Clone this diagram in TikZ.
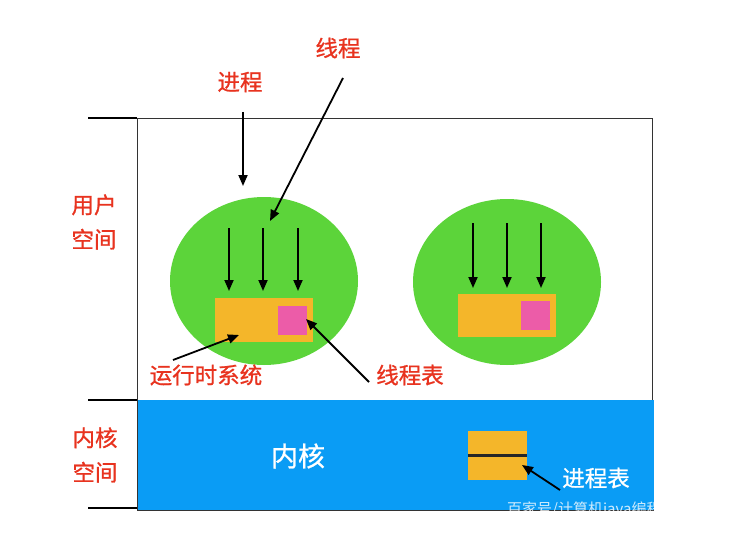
\documentclass[tikz,border=0pt]{standalone}
\usepackage{fontspec}
\setmainfont{Noto Sans CJK SC}[FakeBold=0.9]
\newfontfamily\plaincjk{Noto Sans CJK SC}
\usetikzlibrary{arrows.meta}
\definecolor{lblred}{HTML}{E8331F}
\definecolor{cellgreen}{HTML}{5CD43A}
\definecolor{rtorange}{HTML}{F4B62A}
\definecolor{tblpink}{HTML}{EC5CA8}
\definecolor{kernblue}{HTML}{0A9CF5}
\begin{document}
\begin{tikzpicture}[x=1pt,y=-1pt,
  redlbl/.style={text=lblred,font=\fontsize{22.5}{34.5}\selectfont,inner sep=0pt,align=center},
  whitelbl/.style={text=white,inner sep=0pt},
  ptr/.style={line width=1.8pt,-{Triangle[width=9pt,length=11pt]}},
  tick/.style={line width=1.4pt},
  frame/.style={draw=black!80,line width=0.9pt}]
\useasboundingbox (0,0) rectangle (735,540);
\fill[white] (0,0) rectangle (735,540);

% user space frame and kernel block
\draw[frame] (137,118) rectangle (652,400);
\fill[kernblue] (137,400) rectangle (654,510);
\draw[frame] (137,400) -- (137,510) -- (654,510);

% side ticks
\coordinate (t1a) at (88,118); \coordinate (t1b) at (137,118);
\coordinate (t2a) at (88,400); \coordinate (t2b) at (137,400);
\coordinate (t3a) at (88,508); \coordinate (t3b) at (137,508);
\draw[tick] (t1a) -- (t1b);
\draw[tick] (t2a) -- (t2b);
\draw[tick] (t3a) -- (t3b);

% side labels
\node[redlbl] (user) at (94,222) {用户\\空间};
\node[redlbl] (kspace) at (95,455) {内核\\空间};

% left process
\fill[cellgreen] (264,281) ellipse [x radius=94, y radius=84];
\node[fill=rtorange,minimum width=98pt,minimum height=44pt,inner sep=0pt] (rt1) at (264,320) {};
\node[fill=tblpink,minimum width=29pt,minimum height=29pt,inner sep=0pt] (tt1) at (292.5,320.5) {};
\foreach \i/\x in {a/229,b/263,c/298}{
  \coordinate (s1\i) at (\x,228);
  \coordinate (e1\i) at (\x,291);
  \draw[ptr] (s1\i) -- (e1\i);
}

% right process
\fill[cellgreen] (507,282) ellipse [x radius=94, y radius=83];
\node[fill=rtorange,minimum width=98pt,minimum height=43pt,inner sep=0pt] (rt2) at (507,315.5) {};
\node[fill=tblpink,minimum width=29pt,minimum height=29pt,inner sep=0pt] (tt2) at (535.5,315.5) {};
\foreach \i/\x in {a/473,b/507,c/541}{
  \coordinate (s2\i) at (\x,223);
  \coordinate (e2\i) at (\x,288);
  \draw[ptr] (s2\i) -- (e2\i);
}

% top labels
\node[redlbl] (proc) at (240,82) {进程};
\node[redlbl] (thr) at (338,48) {线程};
\coordinate (procS) at (243,112);
\coordinate (procE) at (243,186);
\draw[ptr] (procS) -- (procE);
\coordinate (thrS) at (343,78);
\coordinate (thrE) at (270,221);
\draw[ptr] (thrS) -- (thrE);

% lower labels
\node[redlbl] (rtlbl) at (206,375) {运行时系统};
\node[redlbl] (ttlbl) at (410,375) {线程表};
\coordinate (rtS) at (173,360);
\coordinate (rtE) at (239,335);
\draw[ptr] (rtS) -- (rtE);
\coordinate (ttS) at (369,382);
\coordinate (ttE) at (306,319);
\draw[ptr] (ttS) -- (ttE);

% kernel contents
\node[whitelbl,font=\fontsize{27}{30}\selectfont] (kern) at (298,456) {内核};
\node[fill=rtorange,minimum width=59pt,minimum height=49pt,inner sep=0pt] (ptab) at (497.5,455.5) {};
\draw[line width=2.2pt,black!85] (ptab.west) -- (ptab.east);
\node[whitelbl,font=\fontsize{22.5}{24}\selectfont] (ptlbl) at (596,478) {进程表};
\coordinate (ptS) at (560,490);
\coordinate (ptE) at (522,465);
\draw[ptr] (ptS) -- (ptE);

% corner mark
\begin{scope}
\clip (500,498) rectangle (660,511.5);
\node[anchor=west,text=white,opacity=0.8,inner sep=0pt,font=\plaincjk\fontsize{15}{18}\selectfont] (mark) at (507,510) {百家号/计算机java编程};
\end{scope}
\end{tikzpicture}
\end{document}
